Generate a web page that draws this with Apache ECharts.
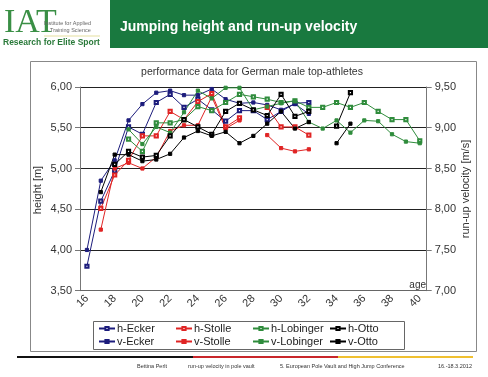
<!DOCTYPE html>
<html><head><meta charset="utf-8">
<script src="https://cdn.jsdelivr.net/npm/echarts@6/dist/echarts.min.js"></script>
<style>html,body{margin:0;padding:0;background:#fff}#c{width:488px;height:377px}</style>
</head><body><div id="c"></div>
<script>
const ages = ['16','17','18','19','20','21','22','23','24','25','26','27','28','29','30','31','32','33','34','35','36','37','38','39','40'];
const leftTicks = [3.5, 6.0];
const rightTicks = [7.0, 9.5];
const hEcker   = [3.80,4.60,4.97,5.51,5.42,5.81,5.91,5.75,5.85,5.72,5.58,5.71,5.71,5.60,5.70,5.80,5.81,null,null,null,null,null,null,null,null];
const vEcker   = [7.50,8.35,8.60,9.09,9.29,9.43,9.455,9.40,9.40,9.475,9.35,9.30,9.31,9.28,9.22,9.29,9.17,null,null,null,null,null,null,null,null];
const hStolle  = [null,4.51,4.92,5.10,5.40,5.40,5.70,5.60,5.82,5.92,5.51,5.62,null,5.75,5.51,5.51,5.41,null,null,null,null,null,null,null,null];
const vStolle  = [null,7.75,8.50,8.57,8.50,8.64,8.96,9.03,9.03,9.38,8.99,9.09,null,8.91,8.75,8.71,8.735,null,null,null,null,null,null,null,null];
const hLobinger= [null,null,null,5.36,5.21,5.56,5.56,5.60,5.76,5.71,5.81,5.91,5.88,5.85,5.81,5.83,5.75,5.75,5.81,5.75,5.81,5.70,5.60,5.60,5.34];
const vLobinger= [null,null,null,8.98,8.80,9.01,8.94,9.19,9.455,9.36,9.49,9.49,9.22,9.26,9.30,9.33,9.07,8.99,9.09,8.94,9.09,9.08,8.92,8.83,8.81];
const hOtto    = [null,null,5.05,5.21,5.14,5.16,5.40,5.60,5.51,5.42,5.70,5.80,5.72,5.65,5.91,5.64,5.70,null,5.52,5.93,null,null,null,null,null];
const vOtto    = [null,8.21,8.67,8.67,8.59,8.61,8.68,8.88,8.96,8.90,8.95,8.81,8.90,9.05,9.20,8.99,9.07,null,8.81,9.05,null,null,null,null,null];

const NAVY='#1c1c7c', RED='#e02424', GREEN='#2f8c3c', BLACK='#000000';
const FONT='Liberation Sans, Arial, sans-serif';
const fmt = v => v.toFixed(2).replace('.', ',');

function ser(name, data, color, filled, axis){
  return {name, type:'line', data, yAxisIndex:axis, symbol: filled?'rect':'emptyRect', symbolSize:3.2,
    itemStyle:{color, borderColor:color, borderWidth:1}, lineStyle:{color, width:1}, animation:false, connectNulls:false};
}
function leg(a,b,left){
  return {data:[a,b], orient:'vertical', left, top:323, itemGap:2, itemWidth:16, itemHeight:4,
    textStyle:{fontFamily:FONT, fontSize:11, color:'#222', padding:[0,0,0,-3]}, padding:0};
}
const chart = echarts.init(document.getElementById('c'), null, {renderer:'canvas'});
chart.setOption({
  animation:false,
  backgroundColor:'#fff',
  grid:{left:80, top:87, width:346.7, height:203.7, containLabel:false},
  xAxis:{type:'category', data:ages, boundaryGap:true,
    axisLine:{lineStyle:{color:'#666', width:1}},
    axisTick:{alignWithLabel:true, interval:0, length:4, lineStyle:{color:'#666'}},
    axisLabel:{interval:1, rotate:45, fontFamily:FONT, fontSize:11, color:'#333', margin:6}},
  yAxis:[
    {type:'value', min:leftTicks[0], max:leftTicks[1], interval:0.5, position:'left',
     axisLine:{show:true, lineStyle:{color:'#777'}}, axisTick:{show:true, length:5, lineStyle:{color:'#777'}},
     axisLabel:{formatter:fmt, fontFamily:FONT, fontSize:11, color:'#333', margin:8},
     splitLine:{show:true, lineStyle:{color:'#222', width:1}}},
    {type:'value', min:rightTicks[0], max:rightTicks[1], interval:0.5, position:'right',
     axisLine:{show:true, lineStyle:{color:'#777'}}, axisTick:{show:true, length:5, lineStyle:{color:'#777'}},
     axisLabel:{formatter:fmt, fontFamily:FONT, fontSize:11, color:'#333', margin:8},
     splitLine:{show:false}}
  ],
  legend:[leg('h-Ecker','v-Ecker',98), leg('h-Stolle','v-Stolle',175), leg('h-Lobinger','v-Lobinger',252), leg('h-Otto','v-Otto',329)],
  series:[
    ser('h-Ecker',hEcker,NAVY,false,0), ser('v-Ecker',vEcker,NAVY,true,1),
    ser('h-Stolle',hStolle,RED,false,0), ser('v-Stolle',vStolle,RED,true,1),
    ser('h-Lobinger',hLobinger,GREEN,false,0), ser('v-Lobinger',vLobinger,GREEN,true,1),
    ser('h-Otto',hOtto,BLACK,false,0), ser('v-Otto',vOtto,BLACK,true,1)
  ],
  graphic:[
    {type:'rect', shape:{x:110,y:0,width:378,height:48}, style:{fill:'#19793f'}, z:1},
    {type:'text', x:120, y:27, style:{text:'Jumping height and run-up velocity', fill:'#fff', font:'bold 14px '+FONT, textVerticalAlign:'middle'}, z:2},
    {type:'text', x:4, y:23, style:{text:'IAT', fill:'#3a8f45', font:'34px Liberation Serif, Times New Roman, serif', textVerticalAlign:'middle'}, z:2},
    {type:'text', x:44, y:23, style:{text:'Institute for Applied', fill:'#666', font:'5.5px '+FONT, textVerticalAlign:'middle'}, z:2},
    {type:'text', x:50, y:30, style:{text:'Training Science', fill:'#666', font:'5.5px '+FONT, textVerticalAlign:'middle'}, z:2},
    {type:'rect', shape:{x:44,y:35.5,width:56,height:1}, style:{fill:'#e6e0a0'}, z:2},
    {type:'text', x:3, y:43, style:{text:'Research for Elite Sport', fill:'#2a7a3a', font:'bold 8.5px '+FONT, textVerticalAlign:'middle'}, z:2},
    {type:'rect', shape:{x:30.5,y:61.5,width:446,height:290}, style:{fill:'none', stroke:'#888', lineWidth:1}, z:0},
    {type:'text', x:252, y:72, style:{text:'performance data for German male top-athletes', fill:'#333', font:'10.5px '+FONT, textAlign:'center', textVerticalAlign:'middle'}, z:2},
    {type:'text', x:38, y:190, rotation:Math.PI/2, style:{text:'height [m]', fill:'#333', font:'11px '+FONT, textAlign:'center', textVerticalAlign:'middle'}, z:2},
    {type:'text', x:466, y:189, rotation:Math.PI/2, style:{text:'run-up velocity [m/s]', fill:'#333', font:'11px '+FONT, textAlign:'center', textVerticalAlign:'middle'}, z:2},
    {type:'text', x:426, y:285, style:{text:'age', fill:'#333', font:'10px '+FONT, textAlign:'right', textVerticalAlign:'middle'}, z:2},
    {type:'rect', shape:{x:93.5,y:321.5,width:311,height:28}, style:{fill:'none', stroke:'#666', lineWidth:1}, z:0},
    {type:'rect', shape:{x:17,y:356,width:176,height:2}, style:{fill:'#111'}, z:2},
    {type:'rect', shape:{x:193,y:356,width:145,height:2}, style:{fill:'#c8262a'}, z:2},
    {type:'rect', shape:{x:338,y:356,width:135,height:2}, style:{fill:'#f0c030'}, z:2},
    {type:'text', x:137, y:366, style:{text:'Bettina Perlt', fill:'#333', font:'5.5px '+FONT, textVerticalAlign:'middle'}, z:2},
    {type:'text', x:188, y:366, style:{text:'run-up velocity in pole vault', fill:'#333', font:'5.5px '+FONT, textVerticalAlign:'middle'}, z:2},
    {type:'text', x:280, y:366, style:{text:'5. European Pole Vault and High Jump Conference', fill:'#333', font:'5.5px '+FONT, textVerticalAlign:'middle'}, z:2},
    {type:'text', x:438, y:366, style:{text:'16.-18.3.2012', fill:'#333', font:'5.5px '+FONT, textVerticalAlign:'middle'}, z:2}
  ]
});
</script></body></html>
